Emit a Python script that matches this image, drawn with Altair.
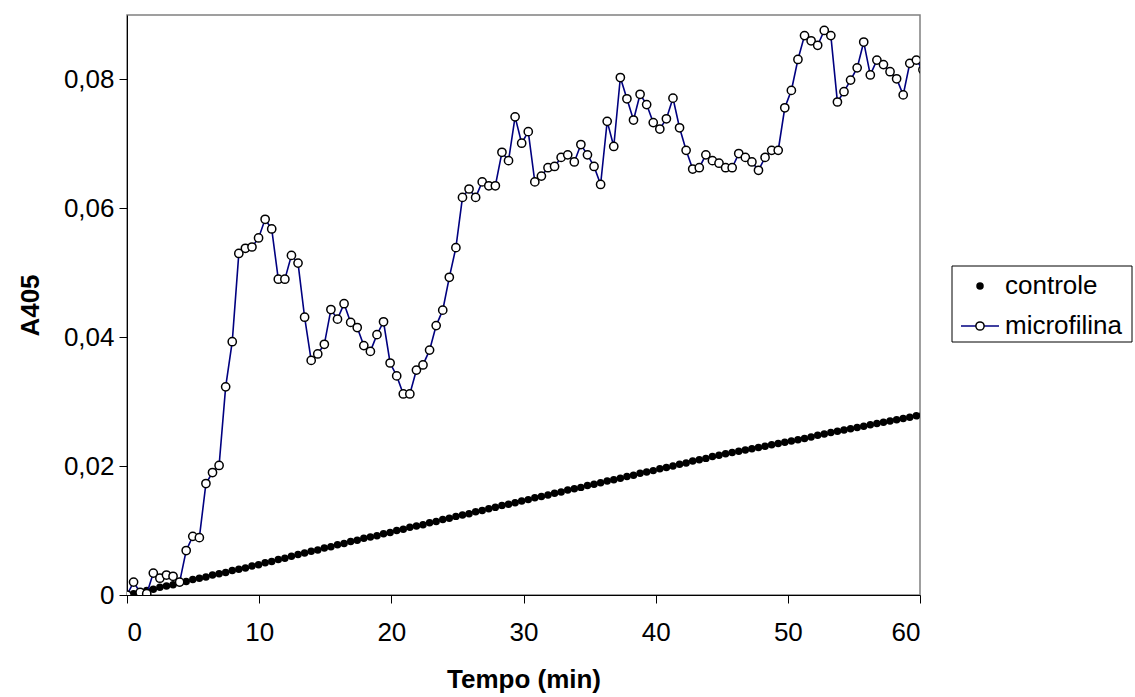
import altair as alt
import pandas as pd

# sampling interval of the readings (min)
TIME_STEP = 0.4977

controle = [
    0.0000, 0.0002, 0.0005, 0.0007, 0.0009, 0.0012, 0.0014, 0.0016, 0.0019, 0.0021,
    0.0024, 0.0026, 0.0028, 0.0031, 0.0033, 0.0035, 0.0038, 0.0040, 0.0042, 0.0045,
    0.0047, 0.0050, 0.0052, 0.0055, 0.0057, 0.0060, 0.0063, 0.0065, 0.0068, 0.0070,
    0.0073, 0.0075, 0.0078, 0.0080, 0.0083, 0.0085, 0.0088, 0.0090, 0.0092, 0.0095,
    0.0097, 0.0100, 0.0102, 0.0105, 0.0107, 0.0109, 0.0112, 0.0114, 0.0117, 0.0119,
    0.0122, 0.0124, 0.0126, 0.0129, 0.0131, 0.0134, 0.0136, 0.0139, 0.0141, 0.0143,
    0.0146, 0.0148, 0.0151, 0.0153, 0.0155, 0.0158, 0.0160, 0.0163, 0.0165, 0.0167,
    0.0170, 0.0172, 0.0174, 0.0177, 0.0179, 0.0181, 0.0184, 0.0186, 0.0189, 0.0191,
    0.0193, 0.0196, 0.0198, 0.0200, 0.0203, 0.0205, 0.0208, 0.0210, 0.0212, 0.0215,
    0.0217, 0.0219, 0.0221, 0.0223, 0.0225, 0.0227, 0.0229, 0.0231, 0.0233, 0.0235,
    0.0237, 0.0239, 0.0241, 0.0243, 0.0245, 0.0248, 0.0250, 0.0252, 0.0254, 0.0256,
    0.0258, 0.0260, 0.0262, 0.0264, 0.0266, 0.0268, 0.0270, 0.0272, 0.0274, 0.0276,
    0.0278, 0.0280,
]

microfilina = [
    0.0000, 0.0020, 0.0004, 0.0002, 0.0034, 0.0026, 0.0031, 0.0029, 0.0020, 0.0069,
    0.0091, 0.0089, 0.0173, 0.0190, 0.0201, 0.0323, 0.0393, 0.0530, 0.0538, 0.0540,
    0.0554, 0.0583, 0.0568, 0.0490, 0.0490, 0.0527, 0.0515, 0.0431, 0.0364, 0.0374,
    0.0389, 0.0443, 0.0428, 0.0452, 0.0423, 0.0415, 0.0387, 0.0378, 0.0404, 0.0424,
    0.0360, 0.0340, 0.0312, 0.0312, 0.0349, 0.0357, 0.0380, 0.0418, 0.0442, 0.0493,
    0.0539, 0.0617, 0.0630, 0.0617, 0.0641, 0.0635, 0.0635, 0.0687, 0.0674, 0.0742,
    0.0701, 0.0719, 0.0641, 0.0650, 0.0663, 0.0665, 0.0679, 0.0683, 0.0672, 0.0699,
    0.0683, 0.0665, 0.0637, 0.0735, 0.0696, 0.0803, 0.0770, 0.0737, 0.0777, 0.0761,
    0.0733, 0.0723, 0.0739, 0.0771, 0.0725, 0.0690, 0.0661, 0.0663, 0.0683, 0.0674,
    0.0670, 0.0663, 0.0663, 0.0685, 0.0679, 0.0672, 0.0659, 0.0679, 0.0690, 0.0690,
    0.0756, 0.0783, 0.0831, 0.0868, 0.0860, 0.0853, 0.0876, 0.0868, 0.0765, 0.0781,
    0.0799, 0.0818, 0.0858, 0.0807, 0.0830, 0.0823, 0.0812, 0.0801, 0.0776, 0.0825,
    0.0830, 0.0815,
]

tempo = [round(i * TIME_STEP, 3) for i in range(len(microfilina))]

x_ticks = [0, 10, 20, 30, 40, 50, 60]
y_ticks = [0, 0.02, 0.04, 0.06, 0.08]

df = pd.DataFrame({"tempo": tempo, "controle": controle, "microfilina": microfilina})

FONT = "Liberation Sans"
FS = 26

xenc = alt.X(
    "tempo:Q",
    scale=alt.Scale(domain=[0, 60], nice=False, zero=False),
    axis=alt.Axis(
        values=x_ticks, title="Tempo (min)", grid=False, tickSize=8,
        domainColor="black", tickColor="black", labelPadding=16,
        titlePadding=21, labelFontSize=FS, titleFontSize=FS,
        labelFont=FONT, titleFont=FONT, titleFontWeight="bold",
        labelColor="black", titleColor="black",
    ),
)

def yenc(field):
    return alt.Y(
        f"{field}:Q",
        scale=alt.Scale(domain=[0, 0.09], nice=False),
        axis=alt.Axis(
            values=y_ticks, title="A405", grid=False, tickSize=8,
            domainColor="black", tickColor="black", labelPadding=5,
            titlePadding=20, labelFontSize=FS, titleFontSize=FS,
            labelFont=FONT, titleFont=FONT, titleFontWeight="bold",
            labelColor="black", titleColor="black",
            labelExpr="datum.value == 0 ? '0' : replace(format(datum.value, '.2f'), '.', ',')",
        ),
    )

base = alt.Chart(df)

ctrl = base.mark_circle(size=56, color="black", opacity=1, clip=True).encode(
    x=xenc, y=yenc("controle")
)
mline = base.mark_line(color="#000080", strokeWidth=1.6, clip=True).encode(
    x=xenc, y=yenc("microfilina")
)
mpts = base.mark_point(
    shape="circle", filled=True, fill="white", stroke="black",
    strokeWidth=1.5, size=68, opacity=1, clip=True
).encode(x=xenc, y=yenc("microfilina"))

# legend (drawn by hand, like the original boxed legend)
lbase = alt.Chart(pd.DataFrame({"k": [0]}))

lbox = lbase.mark_rect(fill="white", stroke="black", strokeWidth=1).encode(
    x=alt.value(825), x2=alt.value(1005), y=alt.value(251), y2=alt.value(327)
)
ldot = lbase.mark_circle(size=56, color="black", opacity=1).encode(
    x=alt.value(853), y=alt.value(271)
)
lline = lbase.mark_rule(color="#000080", strokeWidth=1.6).encode(
    x=alt.value(834), x2=alt.value(872), y=alt.value(311)
)
lcirc = lbase.mark_point(
    shape="circle", filled=True, fill="white", stroke="black",
    strokeWidth=1.5, size=68, opacity=1
).encode(x=alt.value(853), y=alt.value(311))
ltext1 = lbase.mark_text(
    text="controle", align="left", baseline="middle", font=FONT, fontSize=FS, color="black"
).encode(x=alt.value(878), y=alt.value(271))
ltext2 = lbase.mark_text(
    text="microfilina", align="left", baseline="middle", font=FONT, fontSize=FS, color="black"
).encode(x=alt.value(878), y=alt.value(311))

chart = alt.layer(
    ctrl, mline, mpts, lbox, ldot, lline, lcirc, ltext1, ltext2
).properties(
    width=793, height=580,
    autosize=alt.AutoSizeParams(type="none"),
    padding={"left": 127, "top": 15, "right": 215, "bottom": 102},
    background="white",
).configure_view(stroke="#808080", strokeWidth=1.5)

chart.save("out.html", embed_options={"renderer": "svg", "actions": False})
